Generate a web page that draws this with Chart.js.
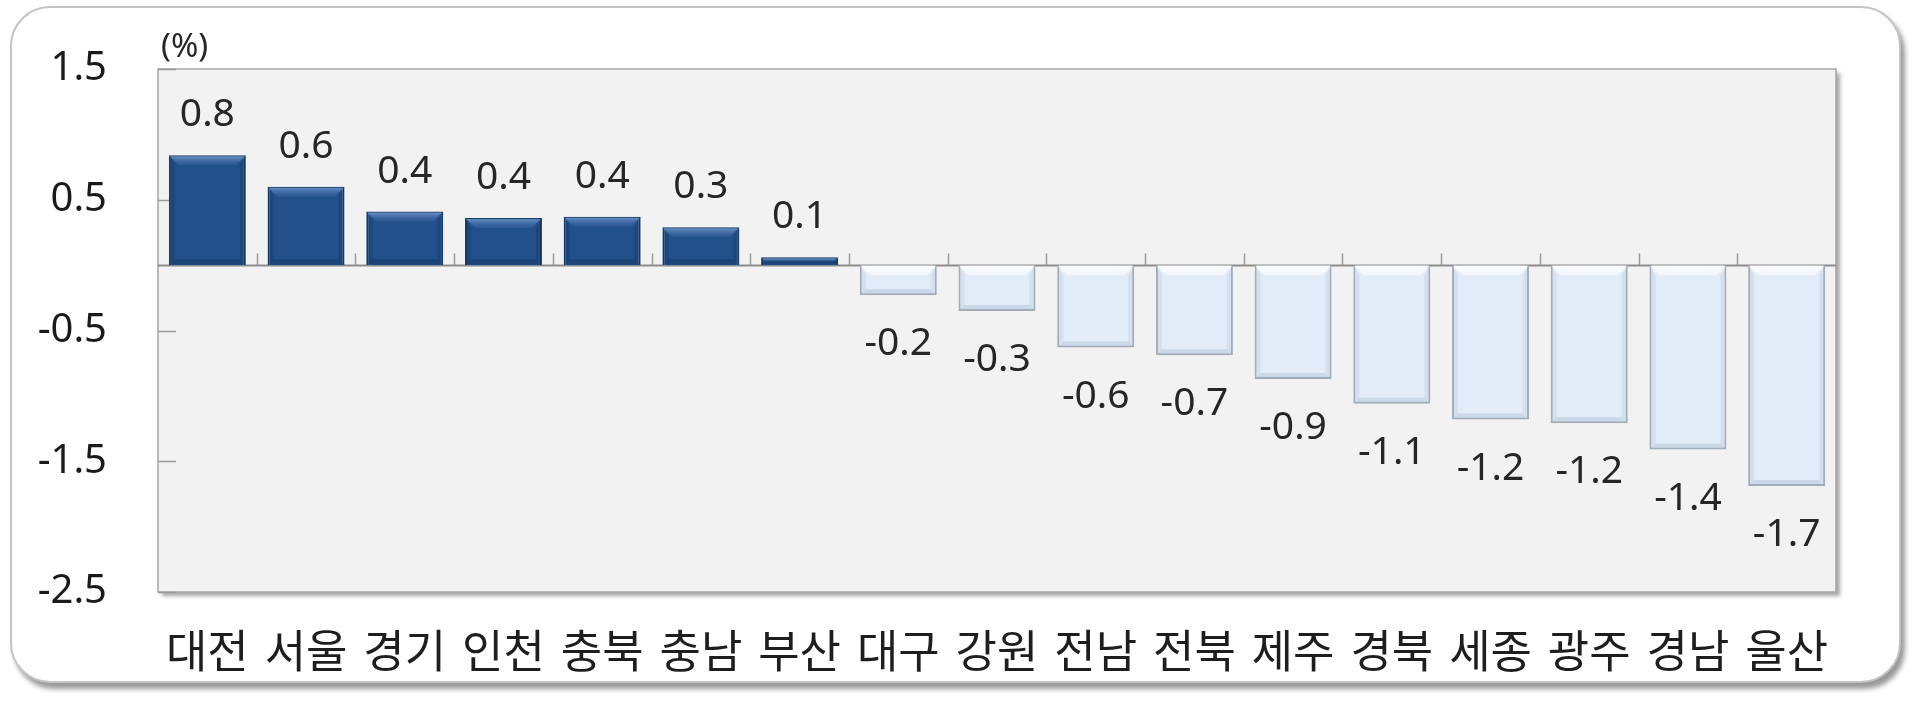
<!DOCTYPE html>
<html>
<head>
<meta charset="utf-8">
<script src="https://cdn.jsdelivr.net/npm/chart.js@4.4.1/dist/chart.umd.min.js"></script>
<style>
    html, body { margin: 0; padding: 0; background: #ffffff; }
    #wrap { position: relative; width: 1920px; height: 706px; overflow: hidden; }
    #frame {
        position: absolute; left: 10px; top: 6px; width: 1887px; height: 673px;
        border: 2px solid #c4c4c4; border-radius: 40px;
        box-shadow: 4px 6px 5px rgba(0, 0, 0, 0.4);
        background: #ffffff;
    }
    #chart { position: absolute; left: 0; top: 0; }
</style>
</head>
<body>
<div id="wrap">
    <div id="frame"></div>
    <canvas id="chart" width="1920" height="706"></canvas>
</div>
<script>
// data
const regions = ['대전', '서울', '경기', '인천', '충북', '충남', '부산', '대구', '강원',
                 '전남', '전북', '제주', '경북', '세종', '광주', '경남', '울산'];
const changes = [0.84, 0.60, 0.41, 0.36, 0.37, 0.29, 0.06, -0.23, -0.35,
                 -0.63, -0.69, -0.87, -1.06, -1.18, -1.21, -1.41, -1.69];
const changeLabels = ['0.8', '0.6', '0.4', '0.4', '0.4', '0.3', '0.1', '-0.2', '-0.3',
                      '-0.6', '-0.7', '-0.9', '-1.1', '-1.2', '-1.2', '-1.4', '-1.7'];
const yTicks = [1.5, 0.5, -0.5, -1.5, -2.5];
const unitLabel = '(%)';

const NUM_FONT = '"Noto Sans", "Noto Sans CJK KR", sans-serif';
const KR_FONT = '"Noto Sans CJK KR", "Noto Sans", sans-serif';

// plot background with its shadow, and the little tick marks
const plotFrame = {
    id: 'plotFrame',
    beforeDatasetsDraw(chart) {
        const { ctx, chartArea: a } = chart;
        ctx.save();
        ctx.shadowColor = 'rgba(0,0,0,0.35)';
        ctx.shadowOffsetX = 4;
        ctx.shadowOffsetY = 4;
        ctx.shadowBlur = 4;
        ctx.fillStyle = '#f2f2f2';
        ctx.fillRect(a.left, a.top, a.right - a.left, a.bottom - a.top);
        ctx.restore();

        ctx.save();
        ctx.strokeStyle = '#a6a6a6';
        ctx.lineWidth = 1.5;
        ctx.strokeRect(a.left, a.top, a.right - a.left, a.bottom - a.top);

        // zero line
        const y = chart.scales.y;
        const zy = Math.round(y.getPixelForValue(0)) + 0.5;
        ctx.strokeStyle = '#8c8c8c';
        ctx.lineWidth = 2;
        ctx.beginPath();
        ctx.moveTo(a.left, zy);
        ctx.lineTo(a.right, zy);
        ctx.stroke();

        // category boundary ticks on the zero line
        ctx.lineWidth = 1.5;
        ctx.strokeStyle = '#999999';
        const step = (a.right - a.left) / regions.length;
        for (let i = 1; i < regions.length; i++) {
            const bx = Math.round(a.left + step * i) + 0.5;
            ctx.beginPath();
            ctx.moveTo(bx, zy - 12);
            ctx.lineTo(bx, zy);
            ctx.stroke();
        }

        // inner value ticks on the left edge
        yTicks.forEach(v => {
            const ty = Math.round(y.getPixelForValue(v)) + 0.5;
            ctx.beginPath();
            ctx.moveTo(a.left, ty);
            ctx.lineTo(a.left + 18, ty);
            ctx.stroke();
        });
        ctx.restore();

        // unit label
        ctx.save();
        ctx.fillStyle = '#262626';
        ctx.font = '33px ' + NUM_FONT;
        ctx.textAlign = 'left';
        ctx.textBaseline = 'middle';
        ctx.fillText(unitLabel, a.left + 3, a.top - 21);
        ctx.restore();
    }
};

// soft bevel on the bars and the value labels
const barDecor = {
    id: 'barDecor',
    afterDatasetsDraw(chart) {
        const { ctx } = chart;
        const meta = chart.getDatasetMeta(0);
        meta.data.forEach((bar, i) => {
            const v = changes[i];
            const w = bar.width;
            const l = bar.x - w / 2 + 1;
            const r = bar.x + w / 2 - 1;
            const t = Math.min(bar.y, bar.base) + 1;
            const b = Math.max(bar.y, bar.base) - 1;
            const e = Math.min(9, (b - t) / 2);
            ctx.save();
            // top band
            const g = ctx.createLinearGradient(0, t, 0, t + e);
            if (v >= 0) {
                g.addColorStop(0, 'rgba(110,150,205,0.85)');
                g.addColorStop(1, 'rgba(60,100,160,0.35)');
            } else {
                g.addColorStop(0, 'rgba(255,255,255,1)');
                g.addColorStop(1, 'rgba(250,252,255,0.6)');
            }
            ctx.beginPath();
            ctx.moveTo(l, t); ctx.lineTo(r, t); ctx.lineTo(r - e, t + e); ctx.lineTo(l + e, t + e);
            ctx.closePath();
            ctx.fillStyle = g;
            ctx.fill();
            // sides
            const s = Math.min(5, e);
            ctx.fillStyle = v >= 0 ? 'rgba(10,30,60,0.18)' : 'rgba(150,170,195,0.18)';
            ctx.beginPath();
            ctx.moveTo(l, t); ctx.lineTo(l + s, t + e); ctx.lineTo(l + s, b - s); ctx.lineTo(l, b);
            ctx.closePath(); ctx.fill();
            ctx.beginPath();
            ctx.moveTo(r, t); ctx.lineTo(r - s, t + e); ctx.lineTo(r - s, b - s); ctx.lineTo(r, b);
            ctx.closePath(); ctx.fill();
            // bottom band
            ctx.fillStyle = v >= 0 ? 'rgba(10,30,60,0.25)' : 'rgba(150,170,195,0.30)';
            ctx.beginPath();
            ctx.moveTo(l, b); ctx.lineTo(r, b); ctx.lineTo(r - s, b - s); ctx.lineTo(l + s, b - s);
            ctx.closePath(); ctx.fill();
            ctx.restore();

            // value label
            ctx.save();
            ctx.fillStyle = '#262626';
            ctx.font = '39px ' + NUM_FONT;
            ctx.textAlign = 'center';
            ctx.textBaseline = 'middle';
            ctx.fillText(changeLabels[i], bar.x, v >= 0 ? bar.y - 40 : bar.y + 49);
            ctx.restore();
        });
    }
};

new Chart(document.getElementById('chart'), {
    type: 'bar',
    data: {
        labels: regions,
        datasets: [{
            data: changes,
            backgroundColor: ctx => changes[ctx.dataIndex] >= 0 ? '#22508b' : '#e2ecf8',
            borderColor: ctx => changes[ctx.dataIndex] >= 0 ? '#1a3d68' : '#a3adb8',
            borderWidth: 2,
            barPercentage: 0.78,
            categoryPercentage: 1.0
        }]
    },
    options: {
        responsive: false,
        animation: false,
        devicePixelRatio: 1,
        layout: { padding: { left: 0, right: 84, top: 69, bottom: 0 } },
        plugins: {
            legend: { display: false },
            tooltip: { enabled: false }
        },
        scales: {
            x: {
                grid: { display: false, drawTicks: false },
                border: { display: false },
                ticks: {
                    color: '#1e1e1e',
                    font: { family: KR_FONT, size: 45 },
                    padding: 32,
                    maxRotation: 0,
                    autoSkip: false
                },
                afterFit(scale) {
                    scale.height = 114;
                    scale.paddingLeft = 0;
                    scale.paddingRight = 0;
                }
            },
            y: {
                min: -2.5,
                max: 1.5,
                afterBuildTicks(scale) { scale.ticks = yTicks.map(v => ({ value: v })); },
                grid: { display: false, drawTicks: false },
                border: { display: false },
                ticks: {
                    color: '#1a1a1a',
                    font: { family: NUM_FONT, size: 40 },
                    padding: 51,
                    callback: v => v.toFixed(1)
                },
                afterFit(scale) {
                    scale.width = 158;
                    scale.paddingTop = 0;
                    scale.paddingBottom = 0;
                }
            }
        }
    },
    plugins: [plotFrame, barDecor]
});
</script>
</body>
</html>
